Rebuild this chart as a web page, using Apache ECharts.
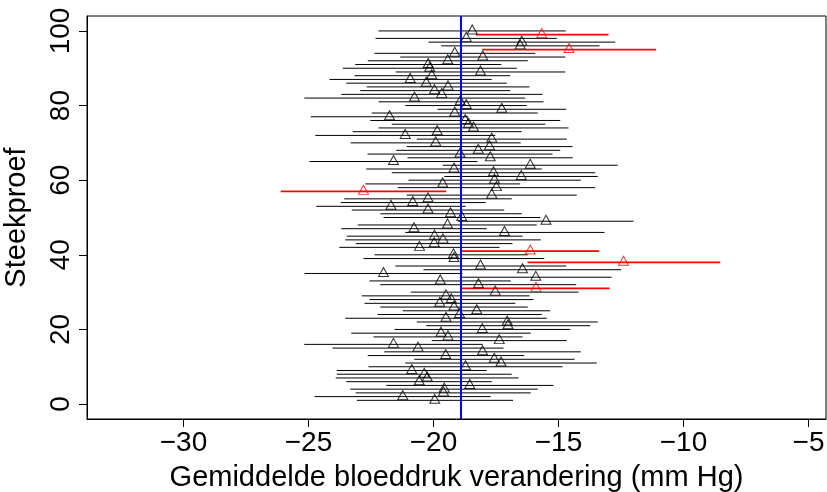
<!DOCTYPE html>
<html>
<head>
<meta charset="utf-8">
<script src="https://cdn.jsdelivr.net/npm/echarts@6/dist/echarts.min.js"></script>
<style>
html,body{margin:0;padding:0;background:#fff;}
#chart{width:827px;height:492px;}
</style>
</head>
<body>
<div id="chart"></div>
<script>
// Sample index (Steekproef)
const samples = Array.from({length: 100}, (_, k) => k + 1);
// Sample means (triangles)
const means = [
-19.95,-21.23,-19.60,-19.57,-18.55,-20.57,-20.25,-20.37,-20.87,-18.72,
-17.30,-17.57,-19.51,-18.04,-20.62,-21.60,-17.37,-19.42,-19.70,-18.05,
-17.02,-17.05,-19.50,-18.96,-18.27,-19.18,-19.75,-19.29,-19.50,-17.53,
-15.90,-18.20,-19.73,-15.91,-22.00,-16.44,-18.12,-12.40,-19.18,-19.20,
-16.13,-20.56,-19.97,-19.62,-19.96,-17.16,-20.78,-19.44,-15.50,-18.87,
-19.32,-20.22,-21.70,-20.83,-20.22,-17.67,-22.80,-17.48,-19.63,-17.56,
-16.49,-17.60,-19.18,-16.13,-21.60,-17.73,-18.94,-18.21,-17.76,-19.91,
-17.67,-21.13,-19.85,-18.40,-18.60,-18.73,-21.76,-19.15,-17.27,-18.69,
-18.93,-20.76,-19.67,-19.96,-19.42,-20.29,-20.93,-20.07,-18.12,-20.15,
-20.21,-19.43,-18.03,-19.15,-14.58,-16.53,-16.47,-18.69,-15.67,-18.45
];
// Lower bounds of the intervals
const lower = [
-23.07,-24.76,-23.11,-23.33,-21.89,-23.49,-23.91,-23.87,-23.87,-22.60,
-21.13,-20.77,-22.63,-21.97,-24.04,-25.17,-20.07,-22.40,-23.29,-21.56,
-20.29,-20.67,-23.53,-22.24,-21.23,-22.13,-22.76,-22.56,-22.87,-20.91,
-18.87,-22.13,-22.56,-18.95,-25.16,-20.40,-21.53,-16.24,-22.80,-22.36,
-18.87,-23.77,-23.11,-23.53,-23.47,-21.13,-23.69,-23.03,-19.01,-22.00,
-22.13,-23.27,-24.69,-23.71,-23.57,-21.07,-26.11,-21.43,-22.73,-21.00,
-19.57,-21.67,-22.69,-19.63,-24.96,-21.04,-22.64,-21.49,-21.07,-23.31,
-20.67,-24.73,-23.23,-22.20,-21.67,-22.53,-24.91,-22.47,-19.84,-21.13,
-22.20,-25.17,-23.69,-22.93,-22.67,-23.49,-24.16,-23.16,-21.51,-23.63,
-23.13,-22.63,-21.33,-22.36,-18.05,-19.69,-20.20,-22.32,-18.31,-22.20
];
// Upper bounds of the intervals
const upper = [
-16.82,-17.71,-16.11,-15.83,-15.20,-17.67,-16.60,-16.87,-17.87,-14.84,
-13.47,-14.36,-16.37,-14.11,-17.20,-18.03,-14.67,-16.44,-16.11,-14.53,
-13.73,-13.43,-15.47,-15.67,-15.33,-16.23,-16.73,-16.00,-16.16,-14.20,
-12.96,-14.29,-16.91,-12.87,-18.84,-12.49,-14.69,-8.53,-15.57,-16.23,
-13.37,-17.36,-16.84,-15.71,-16.44,-13.16,-17.87,-15.87,-12.00,-15.73,
-16.47,-17.17,-18.71,-17.91,-16.87,-14.27,-19.49,-13.53,-16.53,-14.11,
-13.43,-13.53,-15.67,-12.63,-18.24,-14.43,-15.24,-14.93,-14.44,-16.51,
-14.67,-17.53,-16.47,-14.60,-15.53,-14.93,-18.61,-15.83,-14.69,-16.27,
-15.60,-16.33,-15.64,-16.93,-16.16,-17.07,-17.67,-16.93,-14.73,-16.67,
-17.29,-16.23,-14.73,-15.93,-11.10,-13.36,-12.73,-15.07,-13.00,-14.71
];
// True population mean (blue line)
const mu = -18.9;
// Tick values and labels
const xTicks = [-30, -25, -20, -15, -10, -5];
const xTickLabels = ['\u221230', '\u221225', '\u221220', '\u221215', '\u221210', '\u22125'];
const yTicks = [0, 20, 40, 60, 80, 100];
const yTickLabels = ['0', '20', '40', '60', '80', '100'];

const FONT = 'Liberation Sans, Arial, Helvetica, sans-serif';
const missed = samples.map((s, k) => (lower[k] > mu || upper[k] < mu));

const intervalData = samples.map((s, k) => [s, lower[k], upper[k], missed[k] ? 1 : 0]);
const pointData = samples.map((s, k) => ({
  value: [means[k], s],
  itemStyle: { borderColor: missed[k] ? '#ff0000' : '#000000' }
}));

const chart = echarts.init(document.getElementById('chart'), null, { renderer: 'canvas' });
chart.setOption({
  animation: false,
  backgroundColor: '#ffffff',
  grid: {
    left: 87, right: 1, top: 16, bottom: 73,
    containLabel: false,
    outerBoundsMode: 'none',
    show: true, borderColor: '#000000', borderWidth: 1, backgroundColor: 'transparent'
  },
  xAxis: {
    type: 'value',
    min: -33.86, max: -4.3,
    name: 'Gemiddelde bloeddruk verandering (mm Hg)',
    nameLocation: 'middle',
    nameGap: 44,
    nameTextStyle: { fontFamily: FONT, fontSize: 29, color: '#000' },
    axisLine: { show: true, onZero: false, lineStyle: { color: '#000', width: 1 } },
    axisTick: { show: true, inside: false, length: 8, customValues: xTicks, lineStyle: { color: '#000' } },
    axisLabel: {
      show: true, customValues: xTicks, margin: 10,
      fontFamily: FONT, fontSize: 28, color: '#000',
      formatter: v => { const i = xTicks.indexOf(v); return i >= 0 ? xTickLabels[i] : ''; }
    },
    splitLine: { show: false }
  },
  yAxis: {
    type: 'value',
    min: -4, max: 104,
    name: 'Steekproef',
    nameLocation: 'middle',
    nameGap: 56,
    nameRotate: 90,
    nameTextStyle: { fontFamily: FONT, fontSize: 29, color: '#000' },
    axisLine: { show: true, onZero: false, lineStyle: { color: '#000', width: 1 } },
    axisTick: { show: true, inside: false, length: 8, customValues: yTicks, lineStyle: { color: '#000' } },
    axisLabel: {
      show: true, customValues: yTicks, margin: 12, rotate: 90,
      fontFamily: FONT, fontSize: 28, color: '#000',
      formatter: v => { const i = yTicks.indexOf(v); return i >= 0 ? yTickLabels[i] : ''; }
    },
    splitLine: { show: false }
  },
  series: [
    {
      type: 'custom',
      z: 2,
      silent: true,
      encode: { x: [1, 2], y: 0 },
      data: intervalData,
      renderItem: function (params, api) {
        const y = api.value(0), lo = api.value(1), hi = api.value(2), bad = api.value(3);
        const p1 = api.coord([lo, y]);
        const p2 = api.coord([hi, y]);
        return {
          type: 'line',
          shape: { x1: p1[0], y1: p1[1], x2: p2[0], y2: p2[1] },
          style: { stroke: bad ? '#ff0000' : '#000000', lineWidth: bad ? 1.8 : 1 }
        };
      }
    },
    {
      type: 'scatter',
      z: 3,
      silent: true,
      symbol: 'triangle',
      symbolSize: [10, 9],
      symbolOffset: [0, -1.5],
      itemStyle: { color: 'rgba(0,0,0,0)', borderWidth: 1 },
      emphasis: { disabled: true },
      data: pointData
    },
    {
      type: 'line',
      z: 4,
      silent: true,
      showSymbol: false,
      lineStyle: { color: '#0000ff', width: 2 },
      data: [[mu, -4], [mu, 104]]
    }
  ]
});
</script>
</body>
</html>
